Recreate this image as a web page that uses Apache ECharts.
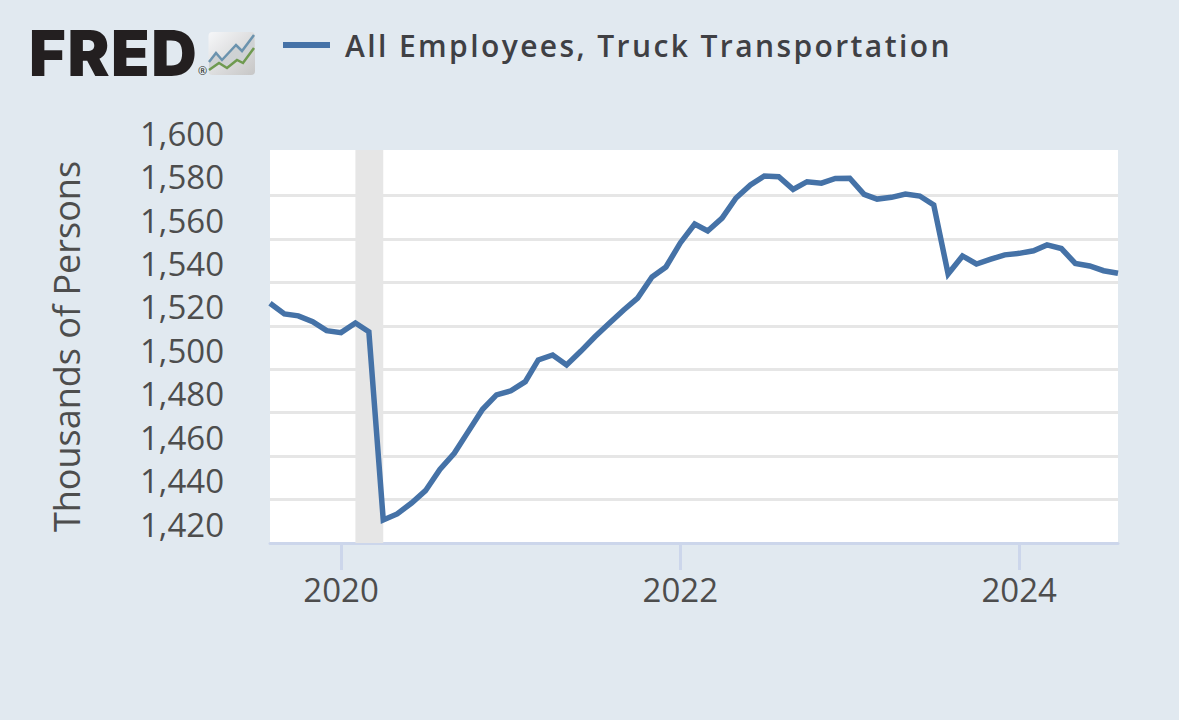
<!DOCTYPE html>
<html><head><meta charset="utf-8">
<style>html,body{margin:0;padding:0;background:#e1e9f0}#c{width:1179px;height:720px}</style>
<script src="https://cdn.jsdelivr.net/npm/echarts@6/dist/echarts.min.js"></script>
</head><body><div id="c"></div>
<script>
const seriesName = 'All Employees, Truck Transportation';
const axisName = 'Thousands of Persons';
const startYear = 2019, startMonth = 7; // Aug 2019
const employees = [1530.4,1525.5,1524.6,1521.9,1517.8,1516.9,1521.3,1517.3,1430.6,1433.4,1438.4,1444.1,1453.9,1461.3,1471.3,1481.6,1488.2,1490.1,1494.3,1504.3,1506.6,1502,1508.4,1515,1521.2,1527.3,1532.8,1542.5,1547.1,1558.2,1566.9,1563.7,1569.6,1578.9,1584.9,1589,1588.7,1582.9,1586.4,1585.7,1587.9,1588,1580.6,1578.4,1579.2,1580.7,1579.8,1575.7,1543.9,1552.2,1548.5,1550.7,1552.7,1553.4,1554.6,1557.3,1555.6,1548.8,1547.6,1545.4,1544.2];
const recessionStart = [2020,1], recessionEnd = [2020,3];
const yLabels = [1420,1440,1460,1480,1500,1520,1540,1560,1580,1600];
const yGridLines = [1420,1440,1460,1480,1500,1520,1540,1560,1580];
const xYears = [2020,2022,2024];

const ts = (y,m)=>Date.UTC(y,m,1);
const points = employees.map((v,i)=>[ts(startYear,startMonth+i),v]);
const chart = echarts.init(document.getElementById('c'),null,{renderer:'svg'});
const textCol = '#4d4d4d', FONT='"Open Sans"';
chart.setOption({
  animation:false,
  backgroundColor:'#e1e9f0',
  textStyle:{fontFamily:FONT},
  legend:{left:278,top:25,icon:'rect',itemWidth:47,itemHeight:6,itemGap:15,
    textStyle:{fontFamily:FONT,fontSize:30,fontWeight:600,color:'#3f4044',padding:[0,0,0,10]},
    data:[seriesName]},
  grid:{left:270,top:150,width:848,height:393,show:true,backgroundColor:'#ffffff',borderWidth:0},
  xAxis:{type:'value',min:ts(startYear,startMonth),max:points[points.length-1][0],
    axisLine:{show:true,onZero:false,lineStyle:{color:'#ccd6eb',width:3}},
    axisTick:{show:true,length:27,lineStyle:{color:'#ccd6eb',width:3},customValues:xYears.map(y=>ts(y,0))},
    axisLabel:{show:true,customValues:xYears.map(y=>ts(y,0)),margin:30,fontFamily:FONT,fontSize:33,color:textCol,
      hideOverlap:false,formatter:v=>String(new Date(v).getUTCFullYear())},
    splitLine:{show:false}},
  yAxis:{type:'value',min:1420,max:1601,name:axisName,nameLocation:'middle',nameRotate:90,nameGap:186,
    nameTextStyle:{fontFamily:FONT,fontSize:36,color:textCol},
    axisLine:{show:false},
    axisTick:{show:false,customValues:yGridLines},
    axisLabel:{show:true,customValues:yLabels,margin:46,fontFamily:FONT,fontSize:33,color:textCol,
      verticalAlign:'bottom',lineHeight:38,hideOverlap:false,
      formatter:v=>v.toLocaleString('en-US')},
    splitLine:{show:true,lineStyle:{color:'#e6e6e6',width:3}}},
  series:[{type:'line',name:seriesName,data:points,showSymbol:false,symbol:'none',clip:true,
    itemStyle:{color:'#4572a7'},
    lineStyle:{color:'#4572a7',width:5.5,join:'miter',miterLimit:10,cap:'butt'},
    markArea:{silent:true,itemStyle:{color:'#e6e6e6'},
      data:[[{xAxis:ts(recessionStart[0],recessionStart[1])},{xAxis:ts(recessionEnd[0],recessionEnd[1])}]]}}],
  graphic:[
    {type:'text',left:29,top:21,style:{text:'FRED',fontFamily:'Inter',fontWeight:900,fontSize:63,fill:'#231f20'}},
    {type:'text',left:198,top:65,style:{text:'®',fontFamily:'Open Sans',fontSize:11,fill:'#231f20'}},
    {type:'rect',shape:{x:208.5,y:32,width:46.5,height:43,r:4},style:{fill:new echarts.graphic.LinearGradient(0,0,1,1,[{offset:0,color:'#f6f7f9'},{offset:1,color:'#c6c6c6'}])}},
    {type:'polygon',shape:{points:[[209,62],[216,53],[222,60],[236,45],[242,51],[254,35],[254,48],[243,63],[237,60],[227,68],[219,63],[209,70]]},style:{fill:'#cfd2d4'}},
    {type:'polyline',shape:{points:[[209,62],[216,53],[222,60],[236,45],[242,51],[254,35]]},style:{stroke:'#6b93ae',lineWidth:2.5,fill:'none'}},
    {type:'polyline',shape:{points:[[209,70],[219,63],[227,68],[237,60],[243,63],[254,48]]},style:{stroke:'#6f9a50',lineWidth:2.5,fill:'none'}}
  ]
});
function spacing(){
  document.querySelectorAll('#c svg text').forEach(t=>{
    if(t.textContent===seriesName) t.style.letterSpacing='2.4px';
    if(t.textContent==='FRED') t.style.letterSpacing='1.6px';
  });
}
chart.on('finished',spacing);spacing();
</script></body></html>
